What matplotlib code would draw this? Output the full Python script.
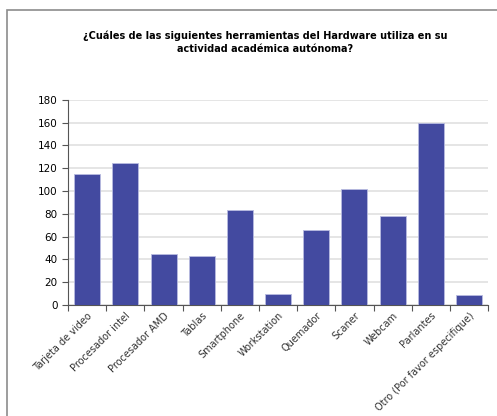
import numpy as np
import matplotlib
matplotlib.use('Agg')
import matplotlib.pyplot as plt
from matplotlib.patches import Rectangle

categories = ['Tarjeta de video', 'Procesador intel', 'Procesador AMD', 'Tablas',
              'Smartphone', 'Workstation', 'Quemador', 'Scaner', 'Webcam',
              'Parlantes', 'Otro (Por favor especifique)']
values = [115, 125, 45, 43, 83, 10, 66, 102, 78, 160, 9]
yticks = [0, 20, 40, 60, 80, 100, 120, 140, 160, 180]

plt.rcParams['font.family'] = 'DejaVu Sans'

fig = plt.figure(figsize=(4.97, 4.16), dpi=100)
ax = fig.add_axes([0.137, 0.267, 0.845, 0.493])

# outer frame of the chart area
fig.patches.append(Rectangle((7 / 497, -0.1), 1.2, 1 - 10 / 416 + 0.1,
                             transform=fig.transFigure, fill=False,
                             edgecolor='#8c8c8c', linewidth=1.2))

x = np.arange(len(categories))
ax.bar(x, values, width=0.68, color='#434aa0', edgecolor='#b8bbe0',
       linewidth=0.6, zorder=3)

ax.set_xlim(-0.5, len(categories) - 0.5)
ax.set_ylim(0, 180)
ax.set_yticks(yticks)
ax.yaxis.grid(True, color='#e0e0e0', linewidth=1.2, zorder=0)

# Excel-style ticks between categories, labels at centers
ax.set_xticks(np.arange(len(categories) + 1) - 0.5)
ax.set_xticklabels([])
ax.set_xticks(x, minor=True)
ax.set_xticklabels(categories, minor=True, rotation=45, ha='right',
                   rotation_mode='anchor', fontsize=7, color='#333333')
ax.tick_params(axis='x', which='minor', length=0, pad=4)
ax.tick_params(axis='x', which='major', length=4, color='#555555')
ax.tick_params(axis='y', length=4, labelsize=7.5, color='#555555')

for s in ['top', 'right']:
    ax.spines[s].set_visible(False)
for s in ['left', 'bottom']:
    ax.spines[s].set_color('#555555')

fig.text(0.533, 0.899, '¿Cuáles de las siguientes herramientas del Hardware utiliza en su\nactividad académica autónoma?',
         ha='center', va='center', fontsize=7.0, fontweight='bold', linespacing=1.35)

fig.savefig('out.png', dpi=100)
